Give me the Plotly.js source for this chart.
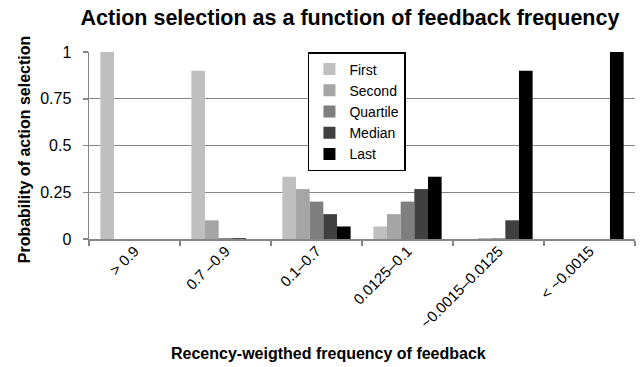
<!DOCTYPE html>
<html>
<head>
<meta charset="utf-8">
<script src="https://cdn.plot.ly/plotly-3.0.1.min.js"></script>
<style>html,body{margin:0;padding:0;background:#fff;}#chart{width:641px;height:367px;}</style>
</head>
<body>
<div id="chart"></div>
<script>
const categories = ["> 0.9", "0.7 \u20130.9", "0.1\u20130.7", "0.0125\u20130.1", "~0.0015\u20130.0125", "< ~0.0015"];
const seriesNames = ["First", "Second", "Quartile", "Median", "Last"];
const first    = [1, 0.9, 0.333, 0.067, 0, 0];
const second   = [0, 0.1, 0.267, 0.133, 0.004, 0];
const quartile = [0, 0.005, 0.2, 0.2, 0.004, 0];
const median   = [0, 0.005, 0.133, 0.267, 0.1, 0];
const last     = [0, 0, 0.067, 0.333, 0.9, 1];
const yTickVals = [0, 0.25, 0.5, 0.75, 1];
const yTickText = ["0", "0.25", "0.5", "0.75", "1"];

const seriesValues = [first, second, quartile, median, last];
const colors = ["#bfbfbf", "#a5a5a5", "#7f7f7f", "#404040", "#000000"];
const FONT = "Liberation Sans, Arial, sans-serif";

const traces = seriesNames.map((name, i) => ({
  type: "bar",
  name: name,
  x: categories,
  y: seriesValues[i],
  marker: {color: colors[i], line: {width: 0}},
  hoverinfo: "none"
}));

const layout = {
  width: 641, height: 367,
  margin: {l: 89, r: 6, t: 52, b: 128},
  paper_bgcolor: "#fff", plot_bgcolor: "#fff",
  font: {family: FONT, size: 16, color: "#000"},
  barmode: "group",
  bargap: 0.25,
  bargroupgap: 0,
  title: {text: "<b>Action selection as a function of feedback frequency</b>",
          font: {family: FONT, size: 21.5, color: "#000"},
          x: 0.478, xanchor: "center", xref: "paper", y: 0.953, yanchor: "middle"},
  xaxis: {
    type: "category",
    tickson: "boundaries",
    ticks: "outside", ticklen: 5, tickcolor: "#868686", tickwidth: 1.5,
    showline: true, linecolor: "#868686", linewidth: 1.5,
    showgrid: false, zeroline: false,
    tickangle: -45,
    ticklabelstandoff: -4,
    tickfont: {family: FONT, size: 15, color: "#000"},
    range: [-0.5, 5.5]
  },
  yaxis: {
    range: [0, 1],
    tickvals: yTickVals, ticktext: yTickText,
    ticks: "outside", ticklen: 5, tickcolor: "#868686", tickwidth: 1.5,
    showline: true, linecolor: "#868686", linewidth: 1.5,
    showgrid: true, gridcolor: "#868686", gridwidth: 1,
    zeroline: false,
    ticklabelstandoff: 8,
    tickfont: {family: FONT, size: 16, color: "#000"}
  },
  showlegend: true,
  legend: {
    x: 0.401, y: 1.0, xanchor: "left", yanchor: "top",
    bgcolor: "#fff", bordercolor: "#000", borderwidth: 1.5,
    font: {family: FONT, size: 14, color: "#000"},
    tracegroupgap: 0, itemwidth: 30,
    traceorder: "normal"
  },
  annotations: [{
    text: "<b>Recency-weigthed frequency of feedback</b>",
    xref: "paper", yref: "paper", x: 0.438, y: -0.612, xanchor: "center", yanchor: "middle",
    showarrow: false, font: {family: FONT, size: 16, color: "#000"}
  }, {
    text: "<b>Probability of action selection</b>",
    xref: "paper", yref: "paper", x: -0.119, y: 0.48, xanchor: "center", yanchor: "middle",
    textangle: -90,
    showarrow: false, font: {family: FONT, size: 16, color: "#000"}
  }]
};

Plotly.newPlot("chart", traces, layout, {staticPlot: true, displayModeBar: false});
</script>
</body>
</html>
